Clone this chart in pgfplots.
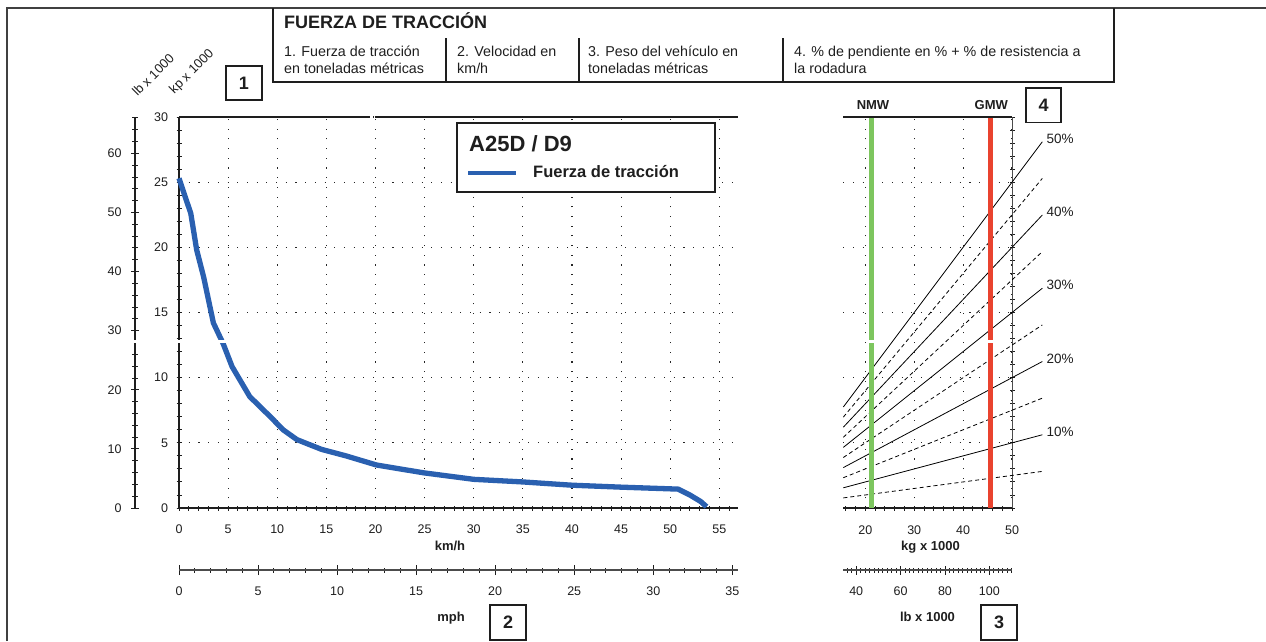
\documentclass[border=0pt]{standalone}
\usepackage{pgfplots}
\pgfplotsset{compat=1.18}
\usepackage{fontspec}
\setmainfont{Liberation Sans}
\definecolor{curveblue}{HTML}{2A60B0}
\definecolor{nmwgreen}{HTML}{7DC65F}
\definecolor{gmwred}{HTML}{E9432F}
\definecolor{ink}{HTML}{1E1E1E}
\newcommand{\fsz}[1]{\fontsize{#1}{#1}\selectfont}
\pgfplotsset{
  myax/.style={
    scale only axis,
    /pgf/number format/assume math mode=true,
    tick label style={font=\fsz{12.5}, text=ink},
    axis line style={line width=1.6pt, ink},
    tick style={ink, line width=0.9pt},
    major tick length=5pt, minor tick length=5pt,
    tick align=center,
    clip=false,
  }
}
\begin{document}
\begin{tikzpicture}
\path[use as bounding box] (0pt,0pt) rectangle (1266pt,-641pt);
% page frame
\draw[line width=1.4pt, black!75] (7pt,-641pt) -- (7pt,-8pt) -- (1266pt,-8pt);
% header box
\draw[line width=1.3pt, ink] (273pt,-8pt) -- (273pt,-82pt) -- (1114pt,-82pt) -- (1114pt,-8pt);
\foreach \x in {446,579,783} \draw[line width=1.3pt, ink] (\x pt,-38pt) -- (\x pt,-82pt);
\node[anchor=base west, inner sep=0pt, font=\fsz{18}\bfseries, text=ink] at (284pt,-28.5pt) {FUERZA DE TRACCIÓN};
\begin{scope}[every node/.style={anchor=base west, inner sep=0pt, font=\fsz{14.3}, text=ink}]
\node at (284pt,-56.5pt) {1. Fuerza de tracción};
\node at (284pt,-73.5pt) {en toneladas métricas};
\node at (457pt,-56.5pt) {2. Velocidad en};
\node at (457pt,-73.5pt) {km/h};
\node at (588pt,-56.5pt) {3. Peso del vehículo en};
\node at (588pt,-73.5pt) {toneladas métricas};
\node at (794pt,-56.5pt) {4. \% de pendiente en \% + \% de resistencia a};
\node at (794pt,-73.5pt) {la rodadura};
\end{scope}

% ---------- main axis: tractive force vs speed ----------
\begin{axis}[myax,
  at={(179pt,-508pt)}, anchor=south west,
  width=559pt, height=391pt,
  xmin=0, xmax=56.9, ymin=0, ymax=30,
  axis x line*=bottom, axis y line*=left,
  xtick={0,5,...,55}, minor xtick={0,1,...,56},
  ytick={0,5,...,30}, minor ytick={0,1,...,30},
  xticklabel style={yshift=-11pt},
  yticklabel style={xshift=-5pt},
  grid=major,
  major grid style={black!85, line width=1.1pt, dash pattern=on 1.1pt off 8.6pt},
]
\addplot[curveblue, line width=5.3pt, line join=round] coordinates {
(0,25.3) (1.2,22.6) (1.8,19.8) (2.5,17.75) (3.5,14.2) (4.5,12.6) (5.4,10.85)
(7.2,8.55) (9.3,7.0) (10.6,6.0) (12.0,5.25) (14.5,4.5) (17,4.0) (20.1,3.3)
(24.9,2.7) (30,2.2) (35,2.0) (38,1.85) (40,1.75) (45,1.6) (50.8,1.45)
(52,1.0) (53.1,0.5) (53.7,0.1)};
\draw[line width=2.4pt, ink] (axis cs:0,30) -- (axis cs:19.45,30);
\draw[line width=2.4pt, ink] (axis cs:19.9,30) -- (axis cs:56.9,30);
\end{axis}

% lb x 1000 vertical scale
\begin{axis}[myax,
  at={(135pt,-508pt)}, anchor=south west,
  width=1pt, height=391pt,
  xmin=0, xmax=1, ymin=0, ymax=66.14,
  axis x line=none, axis y line*=left,
  ytick={0,10,...,60}, minor ytick={0,2,...,66},
  major tick length=8pt, minor tick length=6pt,
  yticklabel style={xshift=-6pt},
  axis line style={line width=1.4pt, ink},
]
\addplot[draw=none] coordinates {(0,0)};
\end{axis}

% mph scale
\begin{axis}[myax,
  at={(179pt,-570pt)}, anchor=south west,
  width=559pt, height=1pt,
  xmin=0, xmax=35.36, ymin=0, ymax=1,
  axis x line*=bottom, axis y line=none,
  xtick={0,5,...,35}, minor xtick={0,1,...,35},
  major tick length=10pt, minor tick length=5pt,
  xticklabel style={yshift=-8pt},
  axis line style={line width=1.4pt, black!70},
]
\addplot[draw=none] coordinates {(0,0)};
\end{axis}

% ---------- right axis: grade diagram ----------
\begin{axis}[myax,
  at={(843.3pt,-508pt)}, anchor=south west,
  width=168.7pt, height=391pt,
  xmin=15.5, xmax=50, ymin=0, ymax=30,
  axis x line*=bottom, axis y line*=right,
  y axis line style={line width=0.9pt, black!70},
  xtick={20,30,40,50}, minor xtick={16,18,...,50},
  ytick={0,5,...,30}, minor ytick={0,1,...,30},
  yticklabels={},
  xticklabel style={yshift=-12pt},
  grid=major,
  major grid style={black!85, line width=1.1pt, dash pattern=on 1.1pt off 8.6pt},
]
\addplot[black, line width=0.8pt] coordinates {(15.5,7.75) (56.2,28.1)};
\addplot[black, line width=0.8pt, dash pattern=on 4pt off 3pt] coordinates {(15.5,6.975) (56.2,25.29)};
\addplot[black, line width=0.8pt] coordinates {(15.5,6.2) (56.2,22.48)};
\addplot[black, line width=0.8pt, dash pattern=on 4pt off 3pt] coordinates {(15.5,5.425) (56.2,19.67)};
\addplot[black, line width=0.8pt] coordinates {(15.5,4.65) (56.2,16.86)};
\addplot[black, line width=0.8pt, dash pattern=on 4pt off 3pt] coordinates {(15.5,3.875) (56.2,14.05)};
\addplot[black, line width=0.8pt] coordinates {(15.5,3.1) (56.2,11.24)};
\addplot[black, line width=0.8pt, dash pattern=on 4pt off 3pt] coordinates {(15.5,2.325) (56.2,8.43)};
\addplot[black, line width=0.8pt] coordinates {(15.5,1.55) (56.2,5.62)};
\addplot[black, line width=0.8pt, dash pattern=on 4pt off 3pt] coordinates {(15.5,0.775) (56.2,2.81)};
\addplot[nmwgreen, line width=5pt] coordinates {(21.3,0) (21.3,30)};
\addplot[gmwred, line width=5pt] coordinates {(45.6,0) (45.6,30)};
\draw[line width=2.4pt, ink] (axis cs:15.5,30) -- (axis cs:50,30);
\begin{scope}[every node/.style={anchor=west, inner sep=0pt, font=\fsz{13.5}, text=ink, xshift=4pt, yshift=3pt}]
\node at (axis cs:56.2,28.1) {50\%};
\node at (axis cs:56.2,22.48) {40\%};
\node at (axis cs:56.2,16.86) {30\%};
\node at (axis cs:56.2,11.24) {20\%};
\node at (axis cs:56.2,5.62) {10\%};
\end{scope}
\end{axis}

% lb x 1000 horizontal scale
\begin{axis}[myax,
  at={(843.3pt,-570pt)}, anchor=south west,
  width=168.7pt, height=1pt,
  xmin=34.17, xmax=110.23, ymin=0, ymax=1,
  axis x line*=bottom, axis y line=none,
  xtick={40,60,80,100}, minor xtick={36,38,...,110},
  major tick length=9pt, minor tick length=5pt,
  xticklabel style={yshift=-9pt},
  axis line style={line width=1.4pt, black!70},
]
\addplot[draw=none] coordinates {(40,0)};
\end{axis}

% breaks (white gaps) as in the reference
\fill[white] (125pt,-339.6pt) rectangle (236pt,-342.6pt);
\fill[white] (866pt,-339.6pt) rectangle (877pt,-342.6pt);
\fill[white] (985pt,-339.6pt) rectangle (996pt,-342.6pt);

% legend
\draw[line width=1.2pt, ink, fill=white] (457pt,-123pt) rectangle (715pt,-192pt);
\node[anchor=base west, inner sep=0pt, font=\fsz{22}\bfseries, text=ink] at (469pt,-151.7pt) {A25D / D9};
\draw[curveblue, line width=4pt] (468pt,-172.7pt) -- (516pt,-172.7pt);
\node[anchor=base west, inner sep=0pt, font=\fsz{16.5}\bfseries, text=ink] at (533pt,-177.7pt) {Fuerza de tracción};

% unit labels
\node[anchor=center, rotate=45, inner sep=0pt, font=\fsz{13}, text=ink] at (153pt,-75pt) {lb x 1000};
\node[anchor=center, rotate=45, inner sep=0pt, font=\fsz{13}, text=ink] at (192pt,-72pt) {kp x 1000};
\begin{scope}[every node/.style={anchor=base, inner sep=0pt, font=\fsz{13}\bfseries, text=ink}]
\node at (450pt,-550pt) {km/h};
\node at (451pt,-621pt) {mph};
\node at (930.5pt,-550pt) {kg x 1000};
\node at (927.5pt,-621.5pt) {lb x 1000};
\node at (873pt,-109.3pt) {NMW};
\node at (991.3pt,-109.3pt) {GMW};
\end{scope}

% numbered boxes
\begin{scope}[every node/.style={anchor=center, inner sep=0pt, font=\fsz{18}\bfseries, text=ink}]
\draw[line width=1.4pt, ink] (226pt,-66pt) rectangle (262pt,-100pt);
\node at (244pt,-83pt) {1};
\draw[line width=1.4pt, ink] (490pt,-605pt) rectangle (526pt,-640pt);
\node at (508pt,-622.5pt) {2};
\draw[line width=1.4pt, ink] (981pt,-605pt) rectangle (1017pt,-640pt);
\node at (999pt,-622.5pt) {3};
\draw[line width=1.4pt, ink] (1026pt,-88pt) rectangle (1061pt,-122.5pt);
\node at (1043.5pt,-105pt) {4};
\end{scope}
\end{tikzpicture}
\end{document}
